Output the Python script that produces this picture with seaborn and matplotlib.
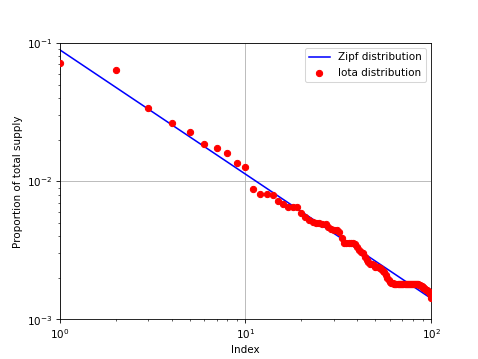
import matplotlib
matplotlib.use("Agg")
import matplotlib.pyplot as plt
import seaborn as sns
import pandas as pd

# Zipf reference line (power law, straight on log-log axes)
zipf_index = [1, 100]
zipf_share = [0.089, 0.00142]

# Iota distribution: proportion of total supply by rank index 1..100
iota_index = list(range(1, 101))
iota_share = [
    0.0720, 0.0641, 0.0340, 0.0263, 0.0225, 0.0187, 0.0174, 0.0160, 0.0135, 0.0127,
    0.0088, 0.00805, 0.00812, 0.0080, 0.0072, 0.0068, 0.0065, 0.0065, 0.0065, 0.0059,
    0.0055, 0.0052, 0.0051, 0.0050, 0.0050, 0.0049, 0.0049, 0.0047, 0.0045, 0.0044,
    0.0044, 0.0043, 0.0039, 0.0036, 0.0036, 0.0036, 0.0036, 0.0036, 0.00349, 0.00337,
    0.0032, 0.0031, 0.0030, 0.00281, 0.00268, 0.0026, 0.00253, 0.0025, 0.00246, 0.0024,
    0.00239, 0.00238, 0.00234, 0.0023, 0.00226, 0.0022, 0.0021, 0.00198, 0.00192, 0.00188,
    0.00185, 0.00184, 0.00182, 0.0018, 0.0018, 0.0018, 0.0018, 0.0018, 0.0018, 0.0018,
    0.0018, 0.0018, 0.0018, 0.0018, 0.0018, 0.0018, 0.0018, 0.0018, 0.0018, 0.0018,
    0.0018, 0.0018, 0.0018, 0.0018, 0.0018, 0.00178, 0.00177, 0.00176, 0.00175, 0.00173,
    0.0017, 0.00169, 0.00167, 0.00164, 0.00163, 0.00162, 0.00159, 0.00157, 0.00152, 0.00144,
]

zipf_df = pd.DataFrame({"Index": zipf_index, "share": zipf_share})
iota_df = pd.DataFrame({"Index": iota_index, "share": iota_share})

fig, ax = plt.subplots(figsize=(6.4, 4.8), dpi=74.84)

sns.lineplot(data=zipf_df, x="Index", y="share", color="blue", linewidth=1.5,
             label="Zipf distribution", ax=ax)
sns.scatterplot(data=iota_df, x="Index", y="share", color="red", s=36,
                edgecolor="red", linewidth=1, label="Iota distribution", ax=ax, zorder=3)

ax.set_xscale("log")
ax.set_yscale("log")
ax.set_xlim(1, 100)
ax.set_ylim(1e-3, 1e-1)
ax.grid(True, which="major")
ax.set_xlabel("Index")
ax.set_ylabel("Proportion of total supply")
ax.legend(loc="upper right")

fig.savefig("out.png", dpi=74.84)
